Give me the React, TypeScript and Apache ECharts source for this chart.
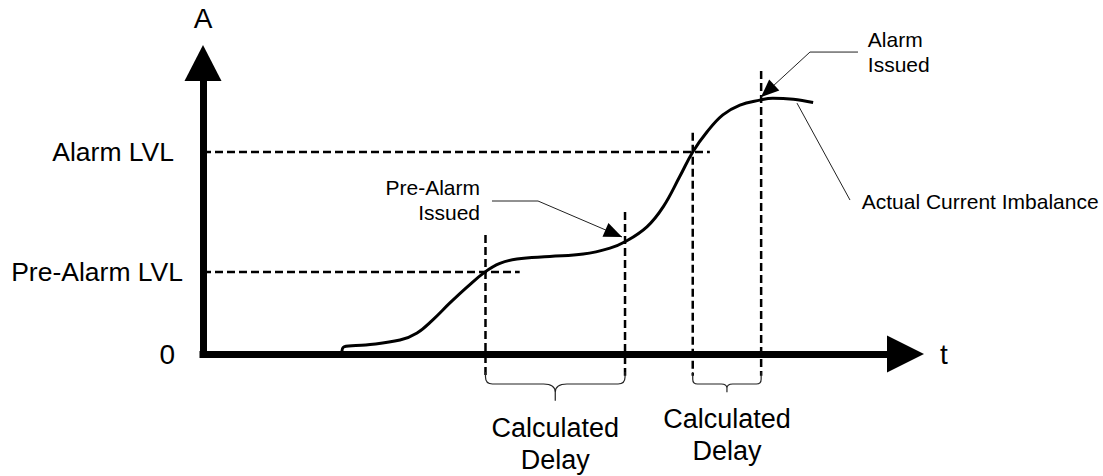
import React, { useEffect, useRef } from 'react';
import * as echarts from 'echarts';

// ---- data (schematic units: t 0..100, A 0..100) ----
const timeValues = [20.3, 20.6, 23.8, 28.8, 31.3, 33.6, 36.1, 38.6, 41.2, 43.4, 45.9, 50.7, 55.6, 59.5, 61.7, 64.9, 67.3, 69.7, 71.6, 73.7, 76.0, 78.5, 81.4, 83.3, 86.3, 89.2];
const currentValues = [0, 2.6, 3.3, 5.1, 7.7, 12.5, 18.7, 24.5, 30.0, 33.2, 34.8, 35.7, 36.6, 38.8, 41.1, 46.6, 54.0, 65.0, 74.0, 81.4, 87.6, 91.2, 93.0, 93.7, 93.3, 92.1];

const levelNames = ['Pre-Alarm LVL', 'Alarm LVL'];
const levelValues = [30.0, 74.0];
const levelLineEnds = [46.3, 74.1];

const eventTimes = [41.3, 61.7, 71.6, 81.6];
const eventLineTops = [43.6, 52.0, 81.0, 103.7];
const eventLineBottom = -8;

const delayStarts = [41.3, 71.6];
const delayEnds = [61.7, 81.6];
const delayLabels = ['Calculated\nDelay', 'Calculated\nDelay'];

const calloutTexts = ['Pre-Alarm\nIssued', 'Alarm\nIssued', 'Actual Current Imbalance'];
const calloutTextPos = [[40.5, 56.4], [97.2, 110.8], [96.3, 56.0]];
const calloutPaths = [
  [[42.25, 56.04], [48.98, 56.04], [61.26, 42.86]],
  [[95.76, 110.6], [88.74, 110.6], [81.58, 94.1]],
  [[86.84, 91.9], [94.59, 56.4]],
];
const calloutArrows = [true, true, false];
const calloutAlign = ['right', 'left', 'left'];

const FONT = '"Liberation Sans", Arial, Helvetica, sans-serif';

export default function App() {
  const ref = useRef<HTMLDivElement>(null);

  useEffect(() => {
    const chart = echarts.init(ref.current as HTMLDivElement, null, { renderer: 'svg' });

    const curve = timeValues.map((t, i) => [t, currentValues[i]]);

    const levelSeries = levelValues.map((v, i) => ({
      type: 'line',
      data: [[0, v], [levelLineEnds[i], v]],
      symbol: 'none',
      clip: false,
      silent: true,
      z: 3,
      lineStyle: { color: '#000', width: 2.5, type: [8, 4] },
    }));

    const eventSeries = eventTimes.map((t, i) => ({
      type: 'line',
      data: [[t, eventLineTops[i]], [t, eventLineBottom]],
      symbol: 'none',
      clip: false,
      silent: true,
      z: 3,
      lineStyle: { color: '#000', width: 2.5, type: [8, 4] },
    }));

    const braceSeries = {
      type: 'custom',
      coordinateSystem: 'cartesian2d',
      clip: false,
      silent: true,
      z: 4,
      data: delayStarts.map((s, i) => [s, delayEnds[i]]),
      renderItem: (params: any, api: any) => {
        const i = params.dataIndex;
        const s = api.coord([api.value(0), 0]);
        const e = api.coord([api.value(1), 0]);
        const y0 = s[1];
        const x1 = s[0];
        const x2 = e[0];
        const w = x2 - x1;
        const depth = w * 0.12;
        const ys = y0 + 18;
        const yh = y0 + 30;
        const c = (x1 + x2) / 2;
        const r = Math.min(7, w * 0.07);
        const hw = depth * 0.7;
        const drop = depth / 2;
        const d =
          `M${x1},${ys} L${x1},${yh - r} Q${x1},${yh} ${x1 + r},${yh} L${c - hw},${yh} Q${c},${yh} ${c},${yh + drop} L${c},${yh + depth} ` +
          `M${x2},${ys} L${x2},${yh - r} Q${x2},${yh} ${x2 - r},${yh} L${c + hw},${yh} Q${c},${yh} ${c},${yh + drop}`;
        return {
          type: 'group',
          children: [
            { type: 'path', shape: { pathData: d }, style: { stroke: '#222', lineWidth: 1.2, fill: 'none' } },
            {
              type: 'text',
              x: c,
              y: yh + depth + 11,
              style: {
                text: delayLabels[i],
                fontSize: 27,
                fontFamily: FONT,
                lineHeight: 32,
                fill: '#000',
                align: 'center',
                textAlign: 'center',
                verticalAlign: 'top',
                textVerticalAlign: 'top',
              },
            },
          ],
        };
      },
    };

    const calloutSeries = {
      type: 'custom',
      coordinateSystem: 'cartesian2d',
      clip: false,
      silent: true,
      z: 5,
      data: calloutTextPos.map((p) => [p[0], p[1]]),
      renderItem: (params: any, api: any) => {
        const i = params.dataIndex;
        const pts = calloutPaths[i].map((p) => api.coord(p));
        const children: any[] = [
          { type: 'polyline', shape: { points: pts }, style: { stroke: '#222', lineWidth: 1, fill: 'none' } },
        ];
        if (calloutArrows[i]) {
          const tip = pts[pts.length - 1];
          const prev = pts[pts.length - 2];
          const dx = tip[0] - prev[0];
          const dy = tip[1] - prev[1];
          const len = Math.hypot(dx, dy);
          const ux = dx / len;
          const uy = dy / len;
          const L = 18;
          const W = 15;
          const bx = tip[0] - ux * L;
          const by = tip[1] - uy * L;
          children.push({
            type: 'polygon',
            shape: { points: [tip, [bx - (uy * W) / 2, by + (ux * W) / 2], [bx + (uy * W) / 2, by - (ux * W) / 2]] },
            style: { fill: '#000', stroke: 'none' },
          });
        }
        const tp = api.coord([api.value(0), api.value(1)]);
        children.push({
          type: 'text',
          x: tp[0],
          y: tp[1],
          style: {
            text: calloutTexts[i],
            fontSize: 21,
            fontFamily: FONT,
            lineHeight: 25,
            fill: '#000',
            align: calloutAlign[i],
            textAlign: calloutAlign[i],
            verticalAlign: 'middle',
            textVerticalAlign: 'middle',
          },
        });
        return { type: 'group', children };
      },
    };

    const axisLineStyle = { color: '#000', width: 7, cap: 'square' };

    chart.setOption({
      animation: false,
      grid: { left: 203, top: 81, width: 684, height: 273, containLabel: false, outerBoundsMode: 'none' },
      xAxis: {
        type: 'value',
        min: 0,
        max: 100,
        name: 't',
        nameLocation: 'end',
        nameGap: 53,
        nameTextStyle: { fontSize: 28, color: '#000', fontFamily: FONT, align: 'left', verticalAlign: 'middle' },
        axisLine: { show: true, onZero: false, symbol: ['none', 'triangle'], symbolSize: [37, 37], symbolOffset: [0, 18.5], lineStyle: axisLineStyle },
        axisTick: { show: false },
        axisLabel: { show: false },
        splitLine: { show: false },
      },
      yAxis: {
        type: 'value',
        min: 0,
        max: 100,
        name: 'A',
        nameLocation: 'end',
        nameGap: 49,
        nameTextStyle: { fontSize: 28, color: '#000', fontFamily: FONT },
        axisLine: { show: true, onZero: false, symbol: ['none', 'triangle'], symbolSize: [37, 36], symbolOffset: [0, 18], lineStyle: axisLineStyle },
        axisTick: { show: false },
        splitLine: { show: false },
        axisLabel: {
          show: true,
          customValues: [0, ...levelValues],
          margin: 20,
          color: '#000',
          fontFamily: FONT,
          formatter: (v: number) => {
            if (Math.abs(v) < 1e-6) return '{z|0}';
            const i = levelValues.findIndex((l) => Math.abs(l - v) < 1e-6);
            return i === 0 ? `{p|${levelNames[0]}}` : `{a|${levelNames[1]}}`;
          },
          rich: {
            z: { fontSize: 28, color: '#000', fontFamily: FONT, padding: [0, 8, 0, 0] },
            p: { fontSize: 26.5, color: '#000', fontFamily: FONT },
            a: { fontSize: 26.5, color: '#000', fontFamily: FONT, padding: [0, 9, 0, 0] },
          },
        },
      },
      series: [
        ...levelSeries,
        ...eventSeries,
        {
          type: 'line',
          data: curve,
          smooth: 0.4,
          symbol: 'none',
          clip: false,
          silent: true,
          z: 6,
          lineStyle: { color: '#000', width: 3 },
        },
        braceSeries,
        calloutSeries,
      ],
    } as any);

    return () => chart.dispose();
  }, []);

  return (
    <div
      ref={ref}
      style={{ position: 'fixed', left: 0, top: 0, width: 1103, height: 476, background: '#fff' }}
    />
  );
}
